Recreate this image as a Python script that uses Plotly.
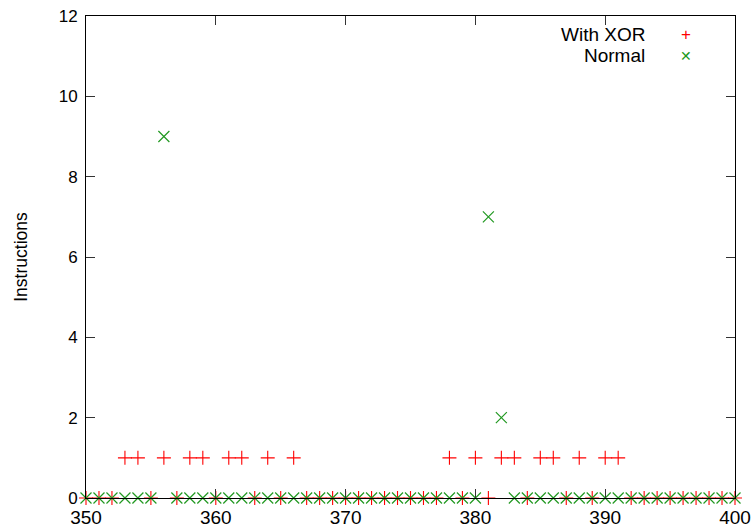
import plotly.graph_objects as go

x_values = list(range(350, 401))
xor_ones = [353, 354, 356, 358, 359, 361, 362, 364, 366,
            378, 380, 382, 383, 385, 386, 388, 390, 391]
normal_nonzero = {356: 9, 381: 7, 382: 2}

xor_values = [1 if x in xor_ones else 0 for x in x_values]
normal_values = [normal_nonzero.get(x, 0) for x in x_values]

x_ticks = [350, 360, 370, 380, 390, 400]
y_ticks = [0, 2, 4, 6, 8, 10, 12]

FONT = "Liberation Sans, Arial, sans-serif"
GREEN = "#229922"
RED = "#ff0000"

fig = go.Figure()
fig.add_trace(go.Scatter(
    x=x_values, y=xor_values, mode="markers", name="With XOR",
    marker=dict(symbol="cross-thin", size=10, line=dict(color=RED, width=1.1)),
    cliponaxis=False, showlegend=False))
fig.add_trace(go.Scatter(
    x=x_values, y=normal_values, mode="markers", name="Normal",
    marker=dict(symbol="x-thin", size=11, line=dict(color=GREEN, width=1.2)),
    cliponaxis=False, showlegend=False))

axis_common = dict(showline=True, linecolor="black", linewidth=1, mirror="ticks",
                   ticks="inside", ticklen=9, tickcolor="#333333", tickwidth=1,
                   showgrid=False, zeroline=False, automargin=False)

fig.update_layout(
    width=752, height=529,
    margin=dict(l=86, r=17, t=16, b=31),
    paper_bgcolor="white", plot_bgcolor="white",
    xaxis=dict(range=[350, 400], tickvals=x_ticks, ticklabelstandoff=2,
               tickfont=dict(family=FONT, size=19, color="black"), **axis_common),
    yaxis=dict(range=[0, 12], tickvals=y_ticks, ticklabelstandoff=4,
               tickfont=dict(family=FONT, size=17, color="black"),
               title=dict(text="Instructions", font=dict(family=FONT, size=17.5, color="black"),
                          standoff=26),
               **axis_common),
    annotations=[
        dict(text="With XOR", xref="paper", yref="paper", x=0.864, y=0.961,
             xanchor="right", yanchor="middle", showarrow=False,
             font=dict(family=FONT, size=19, color="black")),
        dict(text="Normal", xref="paper", yref="paper", x=0.864, y=0.919,
             xanchor="right", yanchor="middle", showarrow=False,
             font=dict(family=FONT, size=19, color="black")),
        dict(text="+", xref="paper", yref="paper", x=0.925, y=0.961,
             xanchor="center", yanchor="middle", showarrow=False,
             font=dict(family=FONT, size=17, color=RED)),
        dict(text="\u2715", xref="paper", yref="paper", x=0.925, y=0.917,
             xanchor="center", yanchor="middle", showarrow=False,
             font=dict(family="DejaVu Sans", size=14, color=GREEN)),
    ],
)

fig.write_html("out.html", config={"displayModeBar": False},
               post_script="document.body.style.margin='0';")
